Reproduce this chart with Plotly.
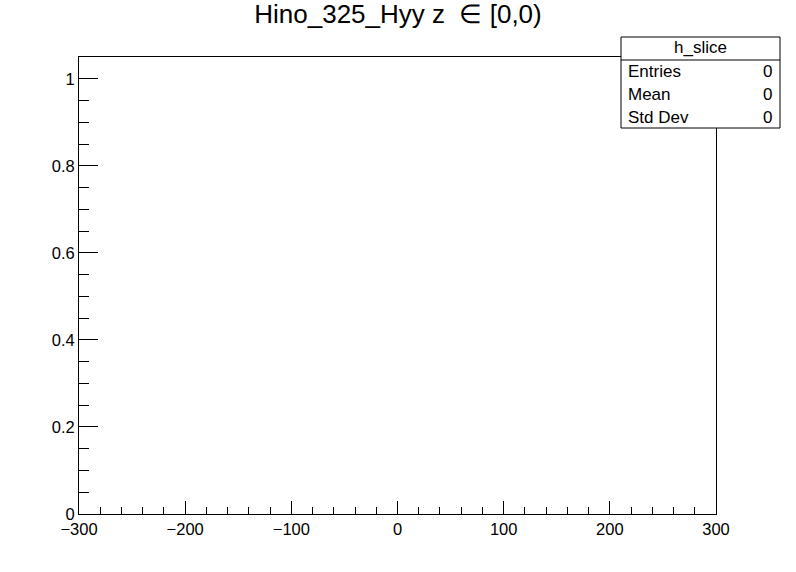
import plotly.graph_objects as go

# --- data (empty histogram h_slice) ---
bin_centers = []
bin_counts = []
x_range = [-300, 300]
y_range = [0, 1.05]
x_tickvals = [-300, -200, -100, 0, 100, 200, 300]
x_ticktext = ["\u2212300", "\u2212200", "\u2212100", "0", "100", "200", "300"]
y_tickvals = [0, 0.2, 0.4, 0.6, 0.8, 1.0]
y_ticktext = ["0", "0.2", "0.4", "0.6", "0.8", "1"]
stat_names = ["Entries", "Mean", "Std Dev"]
stat_values = ["0", "0", "0"]
hist_name = "h_slice"
title_text = "Hino_325_Hyy z  \u2208 [0,0)"

W, H = 796, 572
# plot frame in page pixels
FX0, FX1, FY0, FY1 = 79, 716, 57, 514
L, R, T, B = FX0, W - FX1, FY0, H - FY1
pw, ph = W - L - R, H - T - B

def px(x):
    return (x - L) / pw

def py(y):
    return (H - B - y) / ph

FONT = "Liberation Sans, Arial, Helvetica, sans-serif"

fig = go.Figure()
fig.add_trace(go.Bar(x=bin_centers, y=bin_counts, marker_color="white",
                     marker_line_color="#1f3c99", showlegend=False))

fig.update_layout(
    width=W, height=H,
    margin=dict(l=L, r=R, t=T, b=B, pad=0),
    paper_bgcolor="white", plot_bgcolor="white",
    font=dict(family=FONT, color="black", size=16),
    showlegend=False,
    title=dict(text=title_text, x=398 / W, xref="container", xanchor="center",
               y=1 - 14 / H, yref="container", yanchor="middle",
               font=dict(size=26, family=FONT, color="black")),
)

fig.update_xaxes(
    range=x_range, showgrid=False, zeroline=False,
    showline=True, linecolor="black", linewidth=1, mirror=True,
    ticks="inside", ticklen=13, tickcolor="black", tickwidth=1,
    tickvals=x_tickvals, ticktext=x_ticktext,
    tickfont=dict(size=16.5, family=FONT, color="black"),
    minor=dict(dtick=20, tick0=0, ticks="inside", ticklen=7, tickcolor="black", tickwidth=1, showgrid=False),
)
fig.update_yaxes(
    range=y_range, showgrid=False, zeroline=False,
    showline=True, linecolor="black", linewidth=1, mirror=True,
    ticks="inside", ticklen=19, tickcolor="black", tickwidth=1,
    tickvals=y_tickvals, ticktext=y_ticktext,
    tickfont=dict(size=16.5, family=FONT, color="black"),
    minor=dict(dtick=0.05, tick0=0, ticks="inside", ticklen=10, tickcolor="black", tickwidth=1, showgrid=False),
)

# stats box (page pixels)
bx0, bx1, by0, by1, bdiv = 621, 780, 37, 128, 60
fig.add_shape(type="rect", xref="paper", yref="paper",
              x0=px(bx0), x1=px(bx1), y0=py(by1), y1=py(by0),
              line=dict(color="black", width=1), fillcolor="white", layer="above")
fig.add_shape(type="line", xref="paper", yref="paper",
              x0=px(bx0), x1=px(bx1), y0=py(bdiv), y1=py(bdiv),
              line=dict(color="black", width=1), layer="above")
fig.add_annotation(xref="paper", yref="paper", x=px((bx0 + bx1) / 2), y=py(47),
                   text=hist_name, showarrow=False, xanchor="center", yanchor="middle",
                   font=dict(size=17, family=FONT, color="black"))
row_centers = [72, 95, 117]
for n, v, yc in zip(stat_names, stat_values, row_centers):
    fig.add_annotation(xref="paper", yref="paper", x=px(626), y=py(yc), text=n,
                       showarrow=False, xanchor="left", yanchor="middle",
                       font=dict(size=17, family=FONT, color="black"))
    fig.add_annotation(xref="paper", yref="paper", x=px(774), y=py(yc), text=v,
                       showarrow=False, xanchor="right", yanchor="middle",
                       font=dict(size=17, family=FONT, color="black"))

fig.write_html("out.html", config={"displayModeBar": False},
               post_script="document.body.style.margin='0';document.body.style.padding='0';")
